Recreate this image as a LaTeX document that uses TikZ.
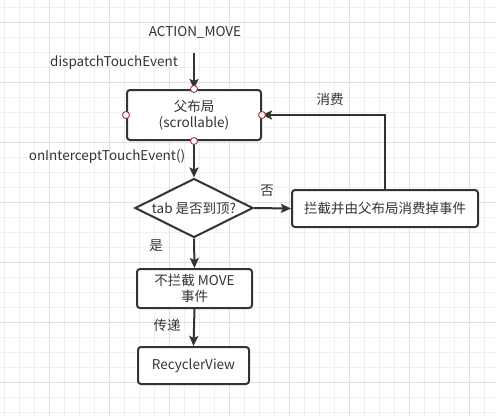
\documentclass[tikz,border=0pt]{standalone}
\usepackage{fontspec}
\setmainfont{Noto Sans CJK SC}
\usetikzlibrary{arrows.meta,shapes.geometric}
\definecolor{ink}{HTML}{333333}
\definecolor{txt}{HTML}{333333}
\definecolor{minorgrid}{HTML}{F0F0F0}
\definecolor{majorgrid}{HTML}{E0E0E0}
\definecolor{port}{HTML}{A33A3A}
\tikzset{
  box/.style={draw=ink,line width=2pt,rounded corners=3pt,fill=white,text=txt,align=center,font=\fontsize{13.5}{16}\selectfont,inner sep=0pt},
  decision/.style={draw=ink,line width=2pt,diamond,aspect=2,fill=white,text=txt,font=\fontsize{13.5}{16}\selectfont,inner sep=0pt,minimum width=118pt,minimum height=59pt},
  lbl/.style={text=txt,font=\fontsize{13.5}{16}\selectfont,inner sep=0pt},
  conn/.style={draw=ink,line width=2pt,-{Stealth[length=10pt,width=9pt,inset=2pt]}},
  portc/.style={circle,draw=port,line width=0.9pt,fill=white,minimum size=7pt,inner sep=0pt}
}
\begin{document}
\begin{tikzpicture}[x=1pt,y=-1pt]
\useasboundingbox (0,0) rectangle (496,416);
\fill[white] (0,0) rectangle (496,416);
% grid
\foreach \x in {4,19,...,496} \draw[minorgrid,line width=1pt] (\x,0) -- (\x,416);
\foreach \y in {7,22,...,416} \draw[minorgrid,line width=1pt] (0,\y) -- (496,\y);
\foreach \x in {49,109,...,496} \draw[majorgrid,line width=1pt] (\x,0) -- (\x,416);
\foreach \y in {22,82,...,416} \draw[majorgrid,line width=1pt] (0,\y) -- (496,\y);

% nodes
\node[lbl] (am) at (195,32) {ACTION\_MOVE};
\coordinate (amend) at (194,53);
\node[lbl] (dte) at (114,63) {dispatchTouchEvent};
\node[box,minimum width=134pt,minimum height=50pt] (p) at (194,115) {父布局\\(scrollable)};
\node[lbl] (ite) at (107,157) {onInterceptTouchEvent()};
\node[decision] (d) at (194,208) {tab 是否到顶?};
\node[box,minimum width=186pt,minimum height=37pt] (c) at (385,208.5) {拦截并由父布局消费掉事件};
\node[lbl] (no) at (267,191) {否};
\node[lbl] (xf) at (330,99) {消费};
\node[lbl] (yes) at (156,246) {是};
\node[box,minimum width=115pt,minimum height=39pt] (n) at (194.5,288.5) {不拦截 MOVE\\事件};
\node[lbl] (pass) at (167,325) {传递};
\node[box,minimum width=111pt,minimum height=37pt] (r) at (193.5,365.5) {RecyclerView};

% connectors
\draw[conn] (amend) -- (p.north);
\draw[conn] (p.south) -- (d.north);
\draw[conn] (d.east) -- (c.west);
\draw[conn,rounded corners=0pt] (c.north) |- (p.east);
\draw[conn] (d.south) -- (n.north);
\draw[conn] (n.south) -- (r.north);

% ports on parent box
\foreach \a in {north,south,east,west} \node[portc] at (p.\a) {};
\end{tikzpicture}
\end{document}
